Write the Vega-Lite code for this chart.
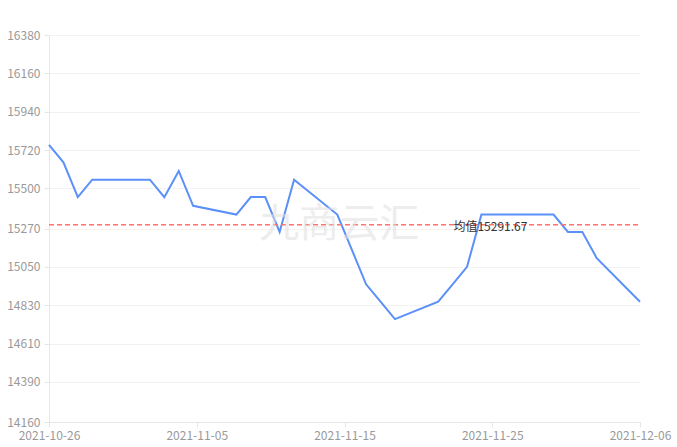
{
  "$schema": "https://vega.github.io/schema/vega-lite/v6.json",
  "width": 591,
  "height": 387,
  "autosize": {"type": "none"},
  "padding": {"left": 49, "top": 35, "right": 37, "bottom": 25},
  "background": "white",
  "config": {
    "view": {"stroke": null},
    "font": "Noto Sans CJK SC",
    "axis": {"labelFont": "Noto Sans CJK SC", "labelFontSize": 12, "labelColor": "#999999", "domainColor": "#e6e6e6", "tickColor": "#e6e6e6", "gridColor": "#f2f2f2", "title": null}
  },
  "data": {
    "values": [
      {"date": "2021-10-26", "value": 15750},
      {"date": "2021-10-27", "value": 15650},
      {"date": "2021-10-28", "value": 15450},
      {"date": "2021-10-29", "value": 15550},
      {"date": "2021-11-01", "value": 15550},
      {"date": "2021-11-02", "value": 15550},
      {"date": "2021-11-03", "value": 15450},
      {"date": "2021-11-04", "value": 15600},
      {"date": "2021-11-05", "value": 15400},
      {"date": "2021-11-08", "value": 15350},
      {"date": "2021-11-09", "value": 15450},
      {"date": "2021-11-10", "value": 15450},
      {"date": "2021-11-11", "value": 15250},
      {"date": "2021-11-12", "value": 15550},
      {"date": "2021-11-15", "value": 15350},
      {"date": "2021-11-16", "value": 15150},
      {"date": "2021-11-17", "value": 14950},
      {"date": "2021-11-18", "value": 14850},
      {"date": "2021-11-19", "value": 14750},
      {"date": "2021-11-22", "value": 14850},
      {"date": "2021-11-23", "value": 14950},
      {"date": "2021-11-24", "value": 15050},
      {"date": "2021-11-25", "value": 15350},
      {"date": "2021-11-26", "value": 15350},
      {"date": "2021-11-29", "value": 15350},
      {"date": "2021-11-30", "value": 15350},
      {"date": "2021-12-01", "value": 15250},
      {"date": "2021-12-02", "value": 15250},
      {"date": "2021-12-03", "value": 15100},
      {"date": "2021-12-06", "value": 14850}
    ]
  },
  "encoding": {
    "x": {
      "field": "date", "type": "temporal",
      "scale": {"type": "utc", "domain": [{"year": 2021, "month": 10, "date": 26, "utc": true}, {"year": 2021, "month": 12, "date": 6, "utc": true}]},
      "axis": {
        "values": [
          {"year": 2021, "month": 10, "date": 26, "utc": true},
          {"year": 2021, "month": 11, "date": 5, "hours": 6, "utc": true},
          {"year": 2021, "month": 11, "date": 15, "hours": 12, "utc": true},
          {"year": 2021, "month": 11, "date": 25, "hours": 18, "utc": true},
          {"year": 2021, "month": 12, "date": 6, "utc": true}
        ],
        "format": "%Y-%m-%d",
        "grid": false,
        "tickSize": 5,
        "labelPadding": 3,
        "labelFlush": false,
        "labelOverlap": false,
        "labelBound": false
      }
    },
    "y": {
      "field": "value", "type": "quantitative",
      "scale": {"domain": [14160, 16380], "nice": false, "zero": false},
      "axis": {
        "values": [14160, 14390, 14610, 14830, 15050, 15270, 15500, 15720, 15940, 16160, 16380],
        "format": "d",
        "tickSize": 5,
        "labelPadding": 4,
        "labelOverlap": false,
        "labelFlush": false,
        "labelBound": false
      }
    }
  },
  "layer": [
    {
      "mark": {"type": "line", "color": "#5b8ff9", "strokeWidth": 2, "clip": false}
    },
    {
      "transform": [{"joinaggregate": [{"op": "mean", "field": "value", "as": "avg"}]}],
      "mark": {"type": "rule", "color": "#ff7070", "strokeWidth": 1.5, "strokeDash": [5, 3]},
      "encoding": {
        "x": {"aggregate": "min", "field": "date", "type": "temporal"},
        "x2": {"aggregate": "max", "field": "date"},
        "y": {"aggregate": "mean", "field": "value", "type": "quantitative"}
      }
    },
    {
      "transform": [
        {"joinaggregate": [{"op": "mean", "field": "value", "as": "avg"}]},
        {"calculate": "'均值' + format(datum.avg, '.2f')", "as": "label"},
        {"filter": {"field": "date", "equal": {"year": 2021, "month": 11, "date": 25, "utc": true}}}
      ],
      "mark": {"type": "text", "color": "#333333", "fontSize": 12, "align": "center", "baseline": "middle", "dy": 2, "dx": 9},
      "encoding": {
        "y": {"field": "avg", "type": "quantitative"},
        "text": {"field": "label"}
      }
    },
    {
      "transform": [
        {"filter": {"field": "date", "equal": {"year": 2021, "month": 11, "date": 15, "utc": true}}},
        {"calculate": "'九商云汇'", "as": "wm"}
      ],
      "mark": {"type": "text", "fontSize": 40, "color": "#e0e0e0", "opacity": 0.55, "align": "center", "baseline": "middle", "dx": 2},
      "encoding": {
        "y": {"datum": 15290, "type": "quantitative"},
        "text": {"field": "wm"}
      }
    }
  ]
}
